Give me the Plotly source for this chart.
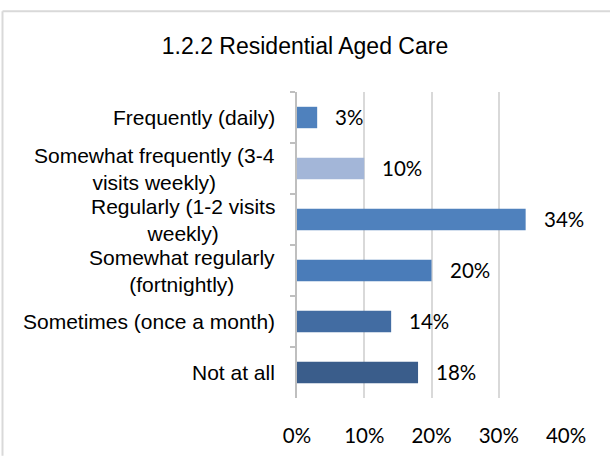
import plotly.graph_objects as go

# Visit frequency categories, top to bottom
categories = [
    "Frequently (daily)",
    "Somewhat frequently (3-4<br>visits weekly)",
    "Regularly (1-2 visits<br>weekly)",
    "Somewhat regularly<br>(fortnightly)",
    "Sometimes (once a month)",
    "Not at all",
]
shares = [0.03, 0.10, 0.34, 0.20, 0.14, 0.18]
share_labels = ["3%", "10%", "34%", "20%", "14%", "18%"]
bar_colors = ["#4F81BD", "#A3B6D8", "#4F81BD", "#4A7CB9", "#426CA2", "#3A5D8B"]
x_ticks = [0, 0.1, 0.2, 0.3, 0.4]
x_tick_text = ["0%", "10%", "20%", "30%", "40%"]

W, H = 610, 459
L, R, T, B = 297, 44, 92, 54
plot_w = W - L - R
plot_h = H - T - B

label_font = "Liberation Sans, Arial, sans-serif"
num_font = "Lato"

cat_ids = [f"c{i}" for i in range(len(categories))]

fig = go.Figure(
    go.Bar(
        x=shares,
        y=cat_ids,
        orientation="h",
        marker=dict(color=bar_colors, line=dict(width=0)),
        hoverinfo="skip",
    )
)

annotations = []
for cid, name in zip(cat_ids, categories):
    annotations.append(dict(
        x=0, xref="paper", y=cid, yref="y", text=name, showarrow=False,
        xanchor="right", yanchor="middle", align="center", xshift=-20,
        font=dict(family=label_font, size=21, color="#000000"),
    ))
for cid, v, t in zip(cat_ids, shares, share_labels):
    annotations.append(dict(
        x=v, xref="x", y=cid, yref="y", text=t, showarrow=False,
        xanchor="left", yanchor="middle", xshift=16, yshift=1,
        font=dict(family=num_font, size=20.5, color="#000000"),
    ))


def px_x(p):
    return (p - L) / plot_w


def px_y(p):
    return (H - B - p) / plot_h


# Chart frame (left and top edges visible)
shapes = [
    dict(type="line", xref="paper", yref="paper", x0=px_x(2.5), x1=px_x(2.5),
         y0=px_y(9.5), y1=px_y(H + 5), line=dict(color="#D9D9D9", width=2)),
    dict(type="line", xref="paper", yref="paper", x0=px_x(2.5), x1=px_x(W + 5),
         y0=px_y(9.5), y1=px_y(9.5), line=dict(color="#D9D9D9", width=2)),
]

fig.update_layout(
    width=W, height=H,
    margin=dict(l=L, r=R, t=T, b=B, pad=0),
    paper_bgcolor="white", plot_bgcolor="white",
    showlegend=False,
    bargap=0.58,
    title=dict(
        text="1.2.2 Residential Aged Care", x=0.5, xref="container", xanchor="center",
        y=1 - 46 / H, yref="container", yanchor="middle",
        font=dict(family=label_font, size=23, color="#000000"),
    ),
    xaxis=dict(
        range=[0, 0.4], tickvals=x_ticks, ticktext=x_tick_text,
        showgrid=True, gridcolor="#D9D9D9", gridwidth=1.5,
        zeroline=False, showline=False, ticks="",
        tickfont=dict(family=num_font, size=20.5, color="#000000"),
        ticklabelstandoff=23, fixedrange=True,
    ),
    yaxis=dict(
        type="category", categoryorder="array", categoryarray=cat_ids,
        autorange="reversed", showticklabels=False,
        showline=True, linecolor="#BFBFBF", linewidth=1.5,
        ticks="outside", tickson="boundaries", ticklen=5, tickcolor="#BFBFBF", tickwidth=1.5,
        showgrid=False, zeroline=False, fixedrange=True,
    ),
    annotations=annotations,
    shapes=shapes,
)

fig.write_html("out.html")
